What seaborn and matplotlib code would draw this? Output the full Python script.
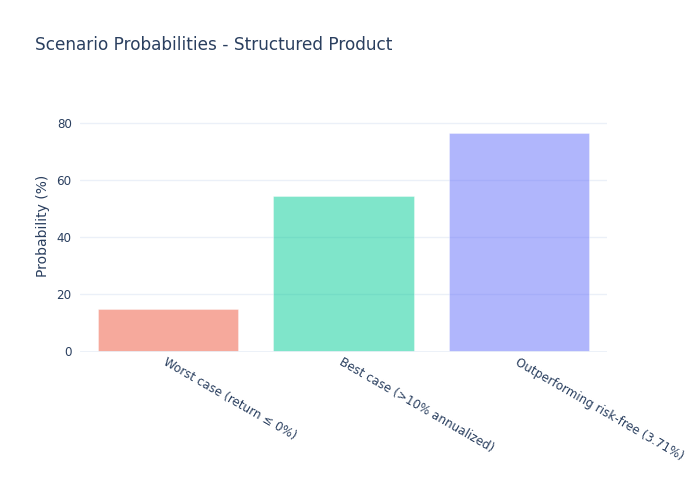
import pandas as pd
import matplotlib.pyplot as plt
import seaborn as sns

# Scenario data
scenarios = [
    "Worst case (return ≤ 0%)",
    "Best case (>10% annualized)",
    "Outperforming risk-free (3.71%)",
]
probabilities = [14.9, 54.35, 76.6]
colors = ["#EF553B", "#00CC96", "#636EFA"]

df = pd.DataFrame({"Scenario": scenarios, "Probability": probabilities})

sns.set_style("white")
plt.rcParams["font.family"] = ["DejaVu Sans"]
text_color = "#2a3f5f"
grid_color = "#EBF0F8"

fig = plt.figure(figsize=(7, 5), dpi=100)
ax = fig.add_axes([0.1143, 0.297, 0.7529, 0.503])

sns.barplot(
    data=df,
    x="Scenario",
    y="Probability",
    hue="Scenario",
    palette=colors,
    saturation=1,
    alpha=0.5,
    width=0.8,
    edgecolor="white",
    linewidth=0.5,
    legend=False,
    ax=ax,
    zorder=3,
)

ax.set_xlim(-0.5, 2.5)
ax.set_ylim(0, 88.1)
ax.set_yticks([0, 20, 40, 60, 80])
ax.grid(axis="y", color=grid_color, linewidth=1, zorder=0)
ax.axhline(0, color=grid_color, linewidth=2, zorder=4)
for s in ax.spines.values():
    s.set_visible(False)
ax.tick_params(axis="both", length=0, colors=text_color, labelsize=8.6)
ax.tick_params(axis="y", pad=6)
ax.tick_params(axis="x", pad=3)

plt.setp(ax.get_xticklabels(), rotation=-30, ha="left", va="top",
         rotation_mode="anchor")

ax.set_xlabel("")
ax.set_ylabel("Probability (%)", color=text_color, fontsize=10, labelpad=5)

fig.text(0.05, 0.911, "Scenario Probabilities - Structured Product",
         color=text_color, fontsize=12.2, va="center", ha="left")

fig.savefig("out.png", dpi=100)
